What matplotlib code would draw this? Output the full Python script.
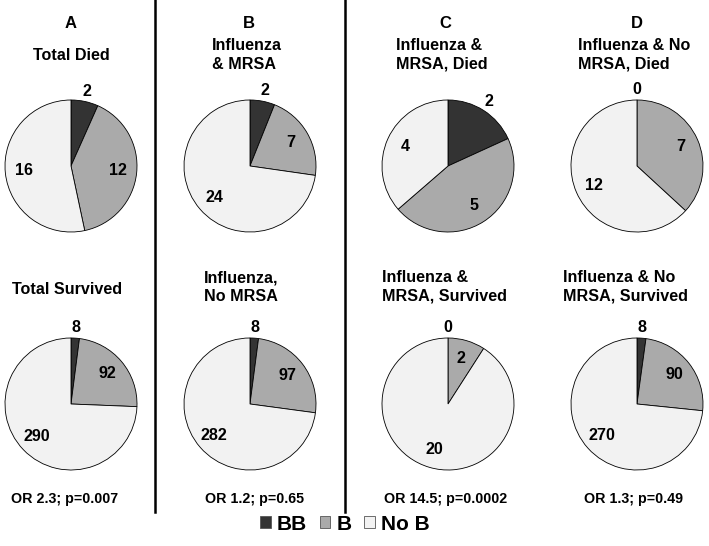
import numpy as np
import matplotlib.pyplot as plt
from matplotlib.patches import Patch

plt.rcParams['font.family'] = ['Liberation Sans', 'DejaVu Sans']
plt.rcParams['font.weight'] = 'bold'

# counts per panel: BB, B, No B
groups = ['BB', 'B', 'No B']
colors = ['#333333', '#aaaaaa', '#f2f2f2']

died = {'A': [2, 12, 16], 'B': [2, 7, 24], 'C': [2, 5, 4], 'D': [0, 7, 12]}
survived = {'A': [8, 92, 290], 'B': [8, 97, 282], 'C': [0, 2, 20], 'D': [8, 90, 270]}

letters = ['A', 'B', 'C', 'D']
top_titles = ['Total Died', 'Influenza\n& MRSA', 'Influenza &\nMRSA, Died', 'Influenza & No\nMRSA, Died']
bottom_titles = ['Total Survived', 'Influenza,\nNo MRSA', 'Influenza &\nMRSA, Survived',
                 'Influenza & No\nMRSA, Survived']
stats = ['OR 2.3; p=0.007', 'OR 1.2; p=0.65', 'OR 14.5; p=0.0002', 'OR 1.3; p=0.49']

W, H = 709, 546
fig = plt.figure(figsize=(W / 100, H / 100), dpi=100)


def fx(x):
    return x / W


def fy(y):
    return 1 - y / H


col_x = [71, 250, 448, 637]
row_y = [166, 404]
R = 66
pad = 1.35
fs = 11.6


def draw_pie(cx, cy, vals):
    ext = R * pad
    ax = fig.add_axes([fx(cx - ext), fy(cy + ext), 2 * ext / W, 2 * ext / H])
    wedges, _ = ax.pie(vals, colors=colors, startangle=90, counterclock=False,
                       wedgeprops=dict(edgecolor='black', linewidth=0.6))
    ax.set_xlim(-pad, pad)
    ax.set_ylim(-pad, pad)
    ax.axis('off')
    for i, (w, v) in enumerate(zip(wedges, vals)):
        mid = np.deg2rad((w.theta1 + w.theta2) / 2)
        d = 1.16 if i == 0 else 0.72
        ax.text(d * np.cos(mid), d * np.sin(mid), str(v), ha='center', va='center',
                fontsize=fs, fontweight='bold')


for i, k in enumerate(letters):
    draw_pie(col_x[i], row_y[0], died[k])
    draw_pie(col_x[i], row_y[1], survived[k])

# headers
letter_x = [71, 249, 445, 637]
for i, k in enumerate(letters):
    fig.text(fx(letter_x[i]), fy(24), k, ha='center', va='center', fontsize=12, fontweight='bold')

fig.text(fx(71), fy(55), top_titles[0], ha='center', va='center', fontsize=fs, fontweight='bold')
for x, t in zip([212, 396, 578], top_titles[1:]):
    fig.text(fx(x), fy(55), t, ha='left', va='center', fontsize=fs, fontweight='bold',
             linespacing=1.3)

fig.text(fx(12), fy(290), bottom_titles[0], ha='left', va='center', fontsize=fs, fontweight='bold')
for x, t in zip([204, 382, 563], bottom_titles[1:]):
    fig.text(fx(x), fy(287), t, ha='left', va='center', fontsize=fs, fontweight='bold',
             linespacing=1.3)

for x, t in zip([65, 255, 446, 633], stats):
    fig.text(fx(x), fy(499), t, ha='center', va='center', fontsize=10.3, fontweight='bold')

# separators
for x in [155, 345]:
    fig.add_artist(plt.Line2D([fx(x), fx(x)], [fy(0), fy(512)], color='black', linewidth=1.8))

handles = [Patch(facecolor=c, edgecolor='#555555', linewidth=0.6) for c in colors]
fig.legend(handles, groups, loc='center', bbox_to_anchor=(fx(345), fy(524)), ncol=3,
           frameon=False, prop=dict(size=15, weight='bold'), handlelength=0.5, handleheight=0.5,
           handletextpad=0.3, columnspacing=0.6)

fig.savefig('out.png', dpi=100)
